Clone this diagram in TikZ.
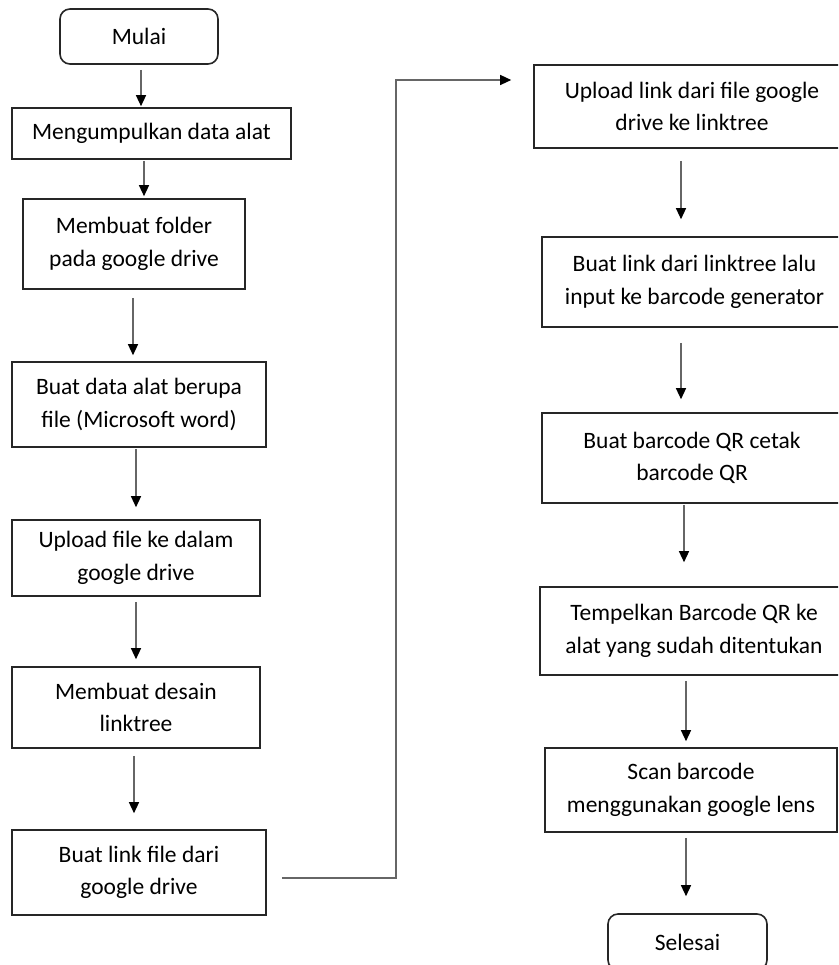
\documentclass[tikz,border=0pt]{standalone}
\usepackage{fontspec}
\setmainfont{Carlito}
\usetikzlibrary{arrows.meta}
\begin{document}
\begin{tikzpicture}[x=1pt,y=-1pt,
  box/.style={draw=black!85, line width=1.6pt, align=center, inner sep=0pt,
              font=\fontsize{23.5}{32.5}\selectfont, text=black},
  term/.style={box, rounded corners=10pt},
  arr/.style={draw=black!60, line width=1.3pt,
              -{Triangle[width=10pt,length=11pt,color=black]}}]
\useasboundingbox (0,0) rectangle (838,965);
\clip (0,0) rectangle (838,965);

% left column
\node[term, minimum width=158pt, minimum height=55pt] (mulai) at (139,36.5) {Mulai};
\node[box, minimum width=279pt, minimum height=51pt] (meng) at (151.5,133.5) {Mengumpulkan data alat};
\node[box, minimum width=222pt, minimum height=90pt] (folder) at (134,244) {Membuat folder\\pada google drive};
\node[box, minimum width=254pt, minimum height=85pt] (data) at (139,404.5) {Buat data alat berupa\\file (Microsoft word)};
\node[box, minimum width=248pt, minimum height=76pt] (upload) at (136,558) {Upload file ke dalam\\google drive};
\node[box, minimum width=248pt, minimum height=81pt] (desain) at (136,707.5) {Membuat desain\\linktree};
\node[box, minimum width=254pt, minimum height=85pt] (link) at (139,872.5) {Buat link file dari\\google drive};

% right column
\node[box, minimum width=316pt, minimum height=83pt] (r1) at (692,106.5) {Upload link dari file google\\drive ke linktree};
\node[box, minimum width=305pt, minimum height=90pt] (r2) at (694.5,282) {Buat link dari linktree lalu\\input ke barcode generator};
\node[box, minimum width=300pt, minimum height=90pt] (r3) at (692,458) {Buat barcode QR cetak\\barcode QR};
\node[box, minimum width=308pt, minimum height=88pt] (r4) at (694,631) {Tempelkan Barcode QR ke\\alat yang sudah ditentukan};
\node[box, minimum width=292pt, minimum height=84pt] (r5) at (691,790) {Scan barcode\\menggunakan google lens};
\node[term, minimum width=159pt, minimum height=56pt] (selesai) at (687.5,942) {Selesai};

% connectors left
\draw[arr] ([xshift=2pt,yshift=-5pt]mulai.south) -- ([xshift=-10.5pt,yshift=1pt]meng.north);
\draw[arr] ([xshift=-7.5pt,yshift=-1pt]meng.south) -- ([xshift=10pt,yshift=2pt]folder.north);
\draw[arr] ([xshift=-1pt,yshift=-8pt]folder.south) -- ([xshift=-6pt,yshift=6pt]data.north);
\draw[arr] ([xshift=-3pt,yshift=-1pt]data.south) -- ([xshift=0pt,yshift=12pt]upload.north);
\draw[arr] ([yshift=-5pt]upload.south) -- ([yshift=7pt]desain.north);
\draw[arr] ([xshift=-2pt,yshift=-7pt]desain.south) -- ([xshift=-5pt,yshift=16pt]link.north);

% cross connector
\coordinate (elbow) at (396,878);
\draw[arr] ([xshift=15pt,yshift=-5.5pt]link.east) -- (elbow) |- ([xshift=-22pt,yshift=26.5pt]r1.west);

% connectors right
\draw[arr] ([xshift=-11pt,yshift=-12pt]r1.south) -- ([xshift=-13.5pt,yshift=17pt]r2.north);
\draw[arr] ([xshift=-13.5pt,yshift=-15pt]r2.south) -- ([xshift=-11pt,yshift=13pt]r3.north);
\draw[arr] ([xshift=-8pt,yshift=-1pt]r3.south) -- ([xshift=-10pt,yshift=24pt]r4.north);
\draw[arr] ([xshift=-8pt,yshift=-5pt]r4.south) -- ([xshift=-5pt,yshift=6pt]r5.north);
\draw[arr] ([xshift=-5pt,yshift=-5pt]r5.south) -- ([xshift=-1.5pt,yshift=17pt]selesai.north);
\end{tikzpicture}
\end{document}
